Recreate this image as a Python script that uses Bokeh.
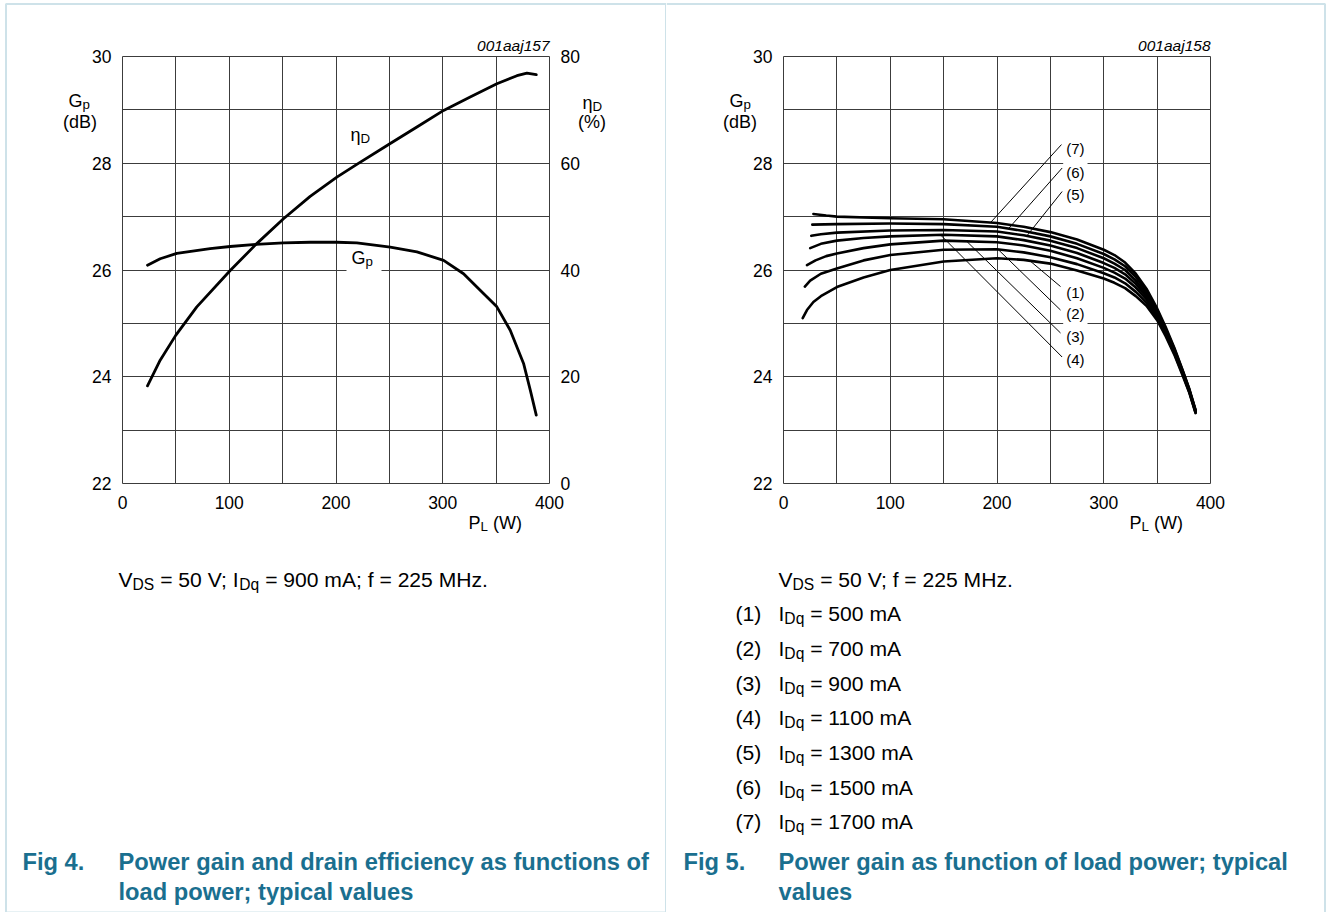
from bokeh.plotting import figure
from bokeh.models import Range1d, LinearAxis, FixedTicker, Label, PolyAnnotation, BoxAnnotation, Grid
from bokeh.layouts import row
from bokeh.embed import file_html
from bokeh.resources import INLINE

# ---------------- data ----------------
# Fig 4: power gain and drain efficiency vs load power (IDq = 900 mA)
P_GP = [23.4, 35.3, 50.9, 82.1, 100.9, 125, 150.8, 175.8, 200.8, 219.5, 250.8, 275.8,
        300.8, 319.5, 332, 350.7, 363.2, 375.7, 382, 387.6]
GP = [26.09, 26.21, 26.31, 26.40, 26.44, 26.48, 26.51, 26.52, 26.52, 26.51, 26.43, 26.34,
      26.18, 25.93, 25.68, 25.31, 24.87, 24.25, 23.75, 23.28]
P_ETA = [23.4, 35.3, 50, 69.6, 100.9, 125, 150.8, 175.8, 200.8, 219.5, 250.8, 275.8,
         300.8, 325.7, 350.7, 369.5, 378.8, 387.6]
ETA = [18.3, 23.1, 27.8, 33.1, 39.9, 44.8, 49.6, 53.8, 57.4, 59.8, 63.7, 66.8,
       69.9, 72.4, 74.9, 76.4, 76.9, 76.6]

# Fig 5: power gain vs load power for several IDq
IDQ_MA = [500, 700, 900, 1100, 1300, 1500, 1700]
P_IDQ_500 = [18, 22, 28, 35, 50, 75, 100, 150, 200, 225, 250, 275, 300, 310, 320, 330, 340, 350,
             358, 366, 374, 380, 386]
GP_IDQ_500 = [25.10, 25.25, 25.40, 25.51, 25.68, 25.86, 26.00, 26.16, 26.22, 26.19, 26.12, 25.99,
              25.84, 25.76, 25.66, 25.51, 25.33, 25.06, 24.76, 24.42, 24.02, 23.71, 23.32]
P_IDQ_700 = [20, 25, 35, 50, 75, 100, 150, 200, 225, 250, 275, 300, 310, 320, 330, 340, 350,
             358, 366, 374, 380, 386]
GP_IDQ_700 = [25.69, 25.80, 25.93, 26.03, 26.18, 26.28, 26.38, 26.39, 26.33, 26.24, 26.11, 25.94,
              25.86, 25.75, 25.59, 25.39, 25.10, 24.79, 24.44, 24.04, 23.72, 23.33]
P_IDQ_900 = [22, 30, 40, 50, 75, 100, 150, 200, 225, 250, 275, 300, 310, 320, 330, 340, 350,
             358, 366, 374, 380, 386]
GP_IDQ_900 = [26.09, 26.18, 26.26, 26.31, 26.41, 26.48, 26.55, 26.52, 26.46, 26.36, 26.22, 26.04,
              25.95, 25.84, 25.67, 25.45, 25.14, 24.82, 24.47, 24.06, 23.74, 23.34]
P_IDQ_1100 = [25, 35, 50, 75, 100, 150, 200, 225, 250, 275, 300, 310, 320, 330, 340, 350,
              358, 366, 374, 380, 386]
GP_IDQ_1100 = [26.41, 26.49, 26.55, 26.60, 26.63, 26.66, 26.63, 26.56, 26.46, 26.32, 26.13,
               26.04, 25.92, 25.74, 25.50, 25.18, 24.85, 24.49, 24.07, 23.75, 23.35]
P_IDQ_1300 = [26, 35, 50, 100, 150, 200, 225, 250, 275, 300, 310, 320, 330, 340, 350,
              358, 366, 374, 380, 386]
GP_IDQ_1300 = [26.64, 26.67, 26.70, 26.74, 26.75, 26.72, 26.65, 26.55, 26.41, 26.22, 26.12,
               26.00, 25.80, 25.55, 25.21, 24.88, 24.51, 24.09, 23.76, 23.36]
P_IDQ_1500 = [27, 50, 100, 150, 200, 225, 250, 275, 300, 310, 320, 330, 340, 350,
              358, 366, 374, 380, 386]
GP_IDQ_1500 = [26.85, 26.86, 26.87, 26.86, 26.81, 26.73, 26.63, 26.49, 26.30, 26.20, 26.07,
               25.87, 25.60, 25.25, 24.90, 24.53, 24.11, 23.77, 23.37]
P_IDQ_1700 = [28, 40, 50, 100, 150, 200, 225, 250, 275, 300, 310, 320, 330, 340, 350,
              358, 366, 374, 380, 386]
GP_IDQ_1700 = [27.05, 27.02, 27.00, 26.97, 26.95, 26.88, 26.81, 26.71, 26.57, 26.38, 26.28,
               26.14, 25.93, 25.65, 25.28, 24.93, 24.55, 24.12, 23.78, 23.38]
CURVES_P = [P_IDQ_500, P_IDQ_700, P_IDQ_900, P_IDQ_1100, P_IDQ_1300, P_IDQ_1500, P_IDQ_1700]
CURVES_GP = [GP_IDQ_500, GP_IDQ_700, GP_IDQ_900, GP_IDQ_1100, GP_IDQ_1300, GP_IDQ_1500, GP_IDQ_1700]

# curve tags (1)..(7) with leader lines (start on curve, end at tag)
TAG_TEXT = ["(1)", "(2)", "(3)", "(4)", "(5)", "(6)", "(7)"]
LEAD_P0 = [231, 200.8, 172, 147, 228, 211, 194]
LEAD_G0 = [26.17, 26.39, 26.53, 26.66, 26.64, 26.78, 26.89]
LEAD_P1 = [259.5, 259.5, 259.5, 261, 261, 261, 260.4]
LEAD_G1 = [25.69, 25.25, 24.82, 24.37, 27.47, 27.91, 28.35]
TAG_P = [262, 262, 262, 262, 262, 262, 262]
TAG_G = [25.58, 25.18, 24.75, 24.32, 27.41, 27.83, 28.27]

X_TICKS = [0, 100, 200, 300, 400]
X_MINOR = [50, 150, 250, 350]
GP_TICKS = [22, 24, 26, 28, 30]
GP_MINOR = [23, 25, 27, 29]
ETA_TICKS = [0, 20, 40, 60, 80]

# ---------------- style ----------------
FONT = "Liberation Sans"
GRID = "#3c3c3c"
TEAL = "#1a6f8f"
BORDER = "#5d9fb5"
FRAME = 427
PAGE_H = 912
CAP = 23.7
NOTE = 21.1
HAS_CROSS = "cross_bounds" in Grid.properties()

# Arial / Liberation Sans advance widths (per 1000 em) for measuring text runs
ADV = {' ': 278, '(': 333, ')': 333, '%': 889, '.': 278, ';': 278, '=': 584, 'A': 667, 'B': 667,
       'D': 722, 'G': 778, 'H': 722, 'I': 278, 'L': 556, 'M': 833, 'P': 667, 'S': 667, 'V': 667,
       'W': 944, 'a': 556, 'd': 556, 'f': 278, 'm': 833, 'p': 556, 'q': 556, 'z': 500,
       'η': 556, 'j': 222}


def text_w(s, size):
    return sum(ADV.get(c, 556) for c in s) * size / 1000.0


def style_axis(ax):
    ax.axis_line_color = None
    ax.major_tick_line_color = None
    ax.minor_tick_line_color = None
    ax.major_tick_out = 0
    ax.major_tick_in = 0
    ax.minor_tick_out = 0
    ax.minor_tick_in = 0
    ax.major_label_text_font = FONT
    ax.major_label_text_font_size = "17.5px"
    ax.major_label_text_color = "black"
    ax.major_label_standoff = 11


class Panel:
    """One half of the page; the frame fills the whole half and the chart box sits inside it."""

    def __init__(self, page_x0, width, frame_left, frame_top):
        self.x0 = page_x0
        self.fl = frame_left
        self.ft = frame_top
        p = figure(width=width, height=PAGE_H,
                   x_range=Range1d(self.dx(page_x0), self.dx(page_x0 + width)),
                   y_range=Range1d(self.dy(PAGE_H), self.dy(0)),
                   output_backend="svg", toolbar_location=None,
                   min_border_left=0, min_border_right=0, min_border_top=0, min_border_bottom=0,
                   background_fill_color="white", border_fill_color="white")
        self.p = p
        p.outline_line_color = None
        xa, ya = p.xaxis[0], p.yaxis[0]
        xa.ticker = FixedTicker(ticks=X_TICKS, minor_ticks=X_MINOR)
        ya.ticker = FixedTicker(ticks=GP_TICKS, minor_ticks=GP_MINOR)
        xa.fixed_location = 22
        ya.fixed_location = 0
        xa.bounds = (0, 400)
        ya.bounds = (22, 30)
        for ax in p.axis:
            style_axis(ax)
        xa.major_label_standoff = 12
        if HAS_CROSS:
            p.xgrid[0].cross_bounds = (22, 30)
            p.ygrid[0].cross_bounds = (0, 400)
            for g in (p.xgrid[0], p.ygrid[0]):
                g.grid_line_color = GRID
                g.grid_line_width = 1
                g.minor_grid_line_color = GRID
                g.minor_grid_line_width = 1
        else:
            p.xgrid.visible = False
            p.ygrid.visible = False
            xs = sorted(X_TICKS + X_MINOR)
            ys = sorted(GP_TICKS + GP_MINOR)
            p.segment(xs, [22] * len(xs), xs, [30] * len(xs), line_color=GRID, line_width=1)
            p.segment([0] * len(ys), ys, [400] * len(ys), ys, line_color=GRID, line_width=1)

    def dx(self, px):
        return (px - self.fl) * 400.0 / FRAME

    def dy(self, py):
        return 30.0 - (py - self.ft) * 8.0 / FRAME

    def text(self, px, cy, s, size, color="black", style="normal", align="left"):
        """px = anchor x, cy = vertical middle of the text, both in page pixels"""
        self.p.add_layout(Label(x=self.dx(px), y=self.dy(cy), text=s, text_font=FONT,
                                text_font_size=f"{size}px", text_color=color, text_font_style=style,
                                text_align=align, text_baseline="middle"))

    def rich(self, px, cy, pieces, size, sub_scale=0.74, sub_off=0.23):
        """pieces: list of (text, is_subscript); px = start x, cy = middle of main text"""
        x = px
        for s, sub in pieces:
            sz = size * sub_scale if sub else size
            lead = len(s) - len(s.lstrip(" "))
            x += text_w(" " * lead, sz)
            body = s.strip(" ")
            if body:
                self.text(x, cy + (sub_off * size if sub else 0), body, round(sz, 2))
            x += text_w(s.lstrip(" "), sz)
        return x

    def border(self, pts):
        xs = [self.dx(a) for a, _ in pts]
        ys = [self.dy(b) for _, b in pts]
        self.p.add_layout(PolyAnnotation(xs=xs, ys=ys, fill_color=None, fill_alpha=0,
                                         line_color=BORDER, line_width=2))


# ---------------- Fig 4 (left) ----------------
L = Panel(0, 666, 122, 56)
p1 = L.p
y0, y1 = p1.y_range.start, p1.y_range.end
p1.extra_y_ranges = {"eff": Range1d((y0 - 22) * 10, (y1 - 22) * 10)}
ax_r = LinearAxis(y_range_name="eff", ticker=FixedTicker(ticks=ETA_TICKS), fixed_location=400,
                  bounds=(0, 80))
style_axis(ax_r)
p1.add_layout(ax_r, "right")

p1.line(P_GP, GP, line_color="black", line_width=2.8, line_join="round", line_cap="round")
p1.line(P_ETA, ETA, y_range_name="eff", line_color="black", line_width=2.8, line_join="round",
        line_cap="round")

# white gap behind the G_p curve tag
p1.add_layout(BoxAnnotation(left=L.dx(346), right=L.dx(381), top=L.dy(248), bottom=L.dy(274),
                            fill_color="white", fill_alpha=1, line_color=None))
L.rich(351, 257.5, [("G", False), ("p", True)], 18, sub_off=0.2)
L.rich(350, 134, [("η", False), ("D", True)], 18)

L.text(549, 45, "001aaj157", 15.5, style="italic", align="right")
L.rich(68, 100, [("G", False), ("p", True)], 18)
L.text(79.5, 121, "(dB)", 18, align="center")
L.rich(582, 102, [("η", False), ("D", True)], 18)
L.text(591.5, 121, "(%)", 18, align="center")
L.rich(468, 522, [("P", False), ("L", True), (" (W)", False)], 18)

L.rich(118, 579, [("V", False), ("DS", True), (" = 50 V; I", False), ("Dq", True),
                  (" = 900 mA; f = 225 MHz.", False)], NOTE)

L.text(22, 861, "Fig 4.", CAP, color=TEAL, style="bold")
L.text(118, 861, "Power gain and drain efficiency as functions of", CAP, color=TEAL, style="bold")
L.text(118, 891, "load power; typical values", CAP, color=TEAL, style="bold")

L.border([(5.5, 912), (5.5, 3.5), (666, 3.5), (665.5, 3.5), (665.5, 912), (5.5, 912)])

# ---------------- Fig 5 (right) ----------------
R = Panel(666, 661, 783, 56)
p2 = R.p
for pp, gg in zip(CURVES_P, CURVES_GP):
    p2.line(pp, gg, line_color="black", line_width=2.6, line_join="round", line_cap="round")
p2.segment(LEAD_P0, LEAD_G0, LEAD_P1, LEAD_G1, line_color="black", line_width=1)
for t, xp, yg in zip(TAG_TEXT, TAG_P, TAG_G):
    p2.add_layout(Label(x=xp, y=yg, text=t, text_font=FONT, text_font_size="15px", text_color="black",
                        text_align="left", text_baseline="middle", background_fill_color="white",
                        padding=3))

R.text(1210, 45, "001aaj158", 15.5, style="italic", align="right")
R.rich(729, 100, [("G", False), ("p", True)], 18)
R.text(739.5, 121, "(dB)", 18, align="center")
R.rich(1129, 522, [("P", False), ("L", True), (" (W)", False)], 18)

R.rich(778, 579, [("V", False), ("DS", True), (" = 50 V; f = 225 MHz.", False)], NOTE)
ROW_MID = [613, 648, 683, 717, 752, 787, 821]
for i, (t, ma) in enumerate(zip(TAG_TEXT, IDQ_MA)):
    R.text(735, ROW_MID[i], t, NOTE)
    R.rich(778, ROW_MID[i], [("I", False), ("Dq", True), (f" = {ma} mA", False)], NOTE)

R.text(683, 861, "Fig 5.", CAP, color=TEAL, style="bold")
R.text(778, 861, "Power gain as function of load power; typical", CAP, color=TEAL, style="bold")
R.text(778, 891, "values", CAP, color=TEAL, style="bold")

R.border([(666, 3.5), (1324.5, 3.5), (1324.5, 912), (1324.5, 3.5)])

layout = row(p1, p2)
open("out.html", "w").write(file_html(layout, INLINE))
